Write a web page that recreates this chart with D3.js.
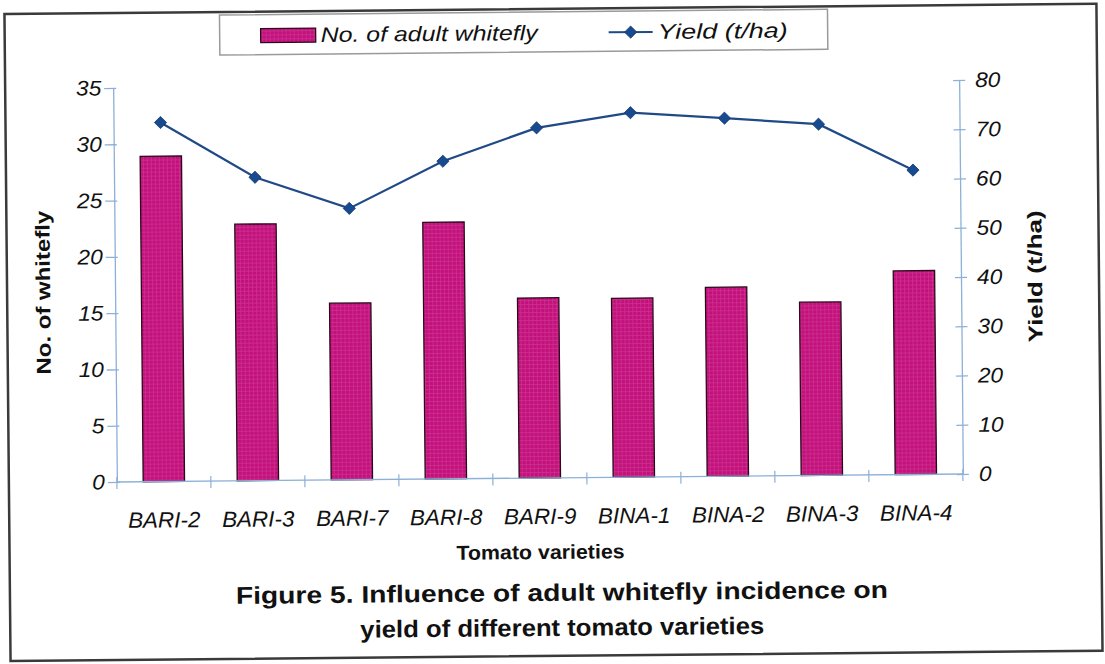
<!DOCTYPE html>
<html>
<head>
<meta charset="utf-8">
<script src="https://cdn.jsdelivr.net/npm/d3@7"></script>
<style>
  html, body { margin: 0; padding: 0; background: #fff; }
  svg { display: block; }
  text { font-family: "Liberation Sans", Arial, sans-serif; fill: #111; }
</style>
</head>
<body>
<svg id="chart" width="1105" height="664"></svg>
<script>
// Tomato varieties and their measurements
const varieties = ["BARI-2", "BARI-3", "BARI-7", "BARI-8", "BARI-9", "BINA-1", "BINA-2", "BINA-3", "BINA-4"];
const whiteflyCounts = [28.9, 22.8, 15.7, 22.8, 16.0, 15.9, 16.8, 15.4, 18.1];
const yieldValues = [72.9, 61.6, 55.1, 64.5, 71.1, 74.0, 72.7, 71.3, 61.8];

// Axis ticks
const whiteflyTicks = [0, 5, 10, 15, 20, 25, 30, 35];
const yieldTicks = [0, 10, 20, 30, 40, 50, 60, 70, 80];

// Labels
const legendLabels = ["No. of adult whitefly", "Yield (t/ha)"];
const xTitle = "Tomato varieties";
const leftTitle = "No. of whitefly";
const rightTitle = "Yield (t/ha)";
const figureCaption = ["Figure 5. Influence of adult whitefly incidence on", "yield of different tomato varieties"];

const svg = d3.select("#chart");
const defs = svg.append("defs");

// fine woven texture on the bars
const pat = defs.append("pattern")
  .attr("id", "barFill").attr("patternUnits", "userSpaceOnUse")
  .attr("width", 4).attr("height", 4);
pat.append("rect").attr("width", 4).attr("height", 4).attr("fill", "#c3107c");
pat.append("path").attr("d", "M0,0.5H4M0.5,0V4")
  .attr("stroke", "#d44c9c").attr("stroke-width", 0.8).attr("opacity", 0.55);

// the whole sheet is tilted a touch
const page = svg.append("g").attr("transform", "rotate(-0.54, 538, 281)");

// horizontal widening applied to text (by factor, or to a fixed width)
function widen(sel, k = 1.1) {
  sel.each(function () {
    const w = this.getComputedTextLength();
    d3.select(this).attr("textLength", w * k).attr("lengthAdjust", "spacingAndGlyphs");
  });
}
function fitWidth(sel, width) {
  sel.attr("textLength", width).attr("lengthAdjust", "spacingAndGlyphs");
}

// frame around the figure
page.append("rect")
  .attr("x", 7).attr("y", 9).attr("width", 1092).attr("height", 647)
  .attr("fill", "none").attr("stroke", "#3a3a3a").attr("stroke-width", 2.5);

const plot = { left: 115, right: 961, top: 84, bottom: 478 };

const x = d3.scaleBand().domain(varieties).range([plot.left, plot.right]).paddingInner(0.56).paddingOuter(0.28);
const xBand = d3.scaleBand().domain(varieties).range([plot.left, plot.right]);
const yLeft = d3.scaleLinear().domain([0, 35]).range([plot.bottom, plot.top]);
const yRight = d3.scaleLinear().domain([0, 80]).range([plot.bottom, plot.top]);

const axisColor = "#8db0d8";

// bars
page.append("g").selectAll("rect")
  .data(varieties)
  .join("rect")
  .attr("x", (d) => x(d))
  .attr("y", (d, i) => yLeft(whiteflyCounts[i]))
  .attr("width", x.bandwidth())
  .attr("height", (d, i) => yLeft(0) - yLeft(whiteflyCounts[i]))
  .attr("fill", "url(#barFill)")
  .attr("stroke", "#2b0a1e").attr("stroke-width", 1.3);

// left axis
const gLeft = page.append("g").attr("transform", `translate(${plot.left},0)`)
  .call(d3.axisLeft(yLeft).tickValues(whiteflyTicks).tickSizeInner(9).tickSizeOuter(0).tickPadding(8));
gLeft.select(".domain").attr("stroke", axisColor).attr("stroke-width", 1.3);
gLeft.selectAll(".tick line").attr("x1", 3).attr("stroke", axisColor).attr("stroke-width", 1.3);
gLeft.selectAll(".tick text")
  .attr("font-size", 21).attr("font-style", "italic").attr("fill", "#1a1a1a")
  .attr("font-family", "Liberation Sans, Arial, sans-serif").attr("x", -12)
  .call(widen, 1.08);

// right axis
const gRight = page.append("g").attr("transform", `translate(${plot.right},0)`)
  .call(d3.axisRight(yRight).tickValues(yieldTicks).tickSizeInner(6).tickSizeOuter(0).tickPadding(14));
gRight.select(".domain").attr("stroke", axisColor).attr("stroke-width", 1.3);
gRight.selectAll(".tick line").attr("x1", -6).attr("stroke", axisColor).attr("stroke-width", 1.3);
gRight.selectAll(".tick text")
  .attr("font-size", 21).attr("font-style", "italic").attr("fill", "#1a1a1a")
  .attr("font-family", "Liberation Sans, Arial, sans-serif").attr("x", 16)
  .call(widen, 1.08);

// category axis: ticks sit on the category boundaries
const gX = page.append("g").attr("transform", `translate(0,${plot.bottom})`);
gX.append("line").attr("x1", plot.left).attr("x2", plot.right)
  .attr("stroke", axisColor).attr("stroke-width", 1.3);
gX.selectAll("line.tick")
  .data(varieties.concat(["end"]))
  .join("line").attr("class", "tick")
  .attr("x1", (d, i) => i < varieties.length ? xBand(d) : plot.right)
  .attr("x2", (d, i) => i < varieties.length ? xBand(d) : plot.right)
  .attr("y1", -5).attr("y2", 7)
  .attr("stroke", axisColor).attr("stroke-width", 1.2);
gX.selectAll("text")
  .data(varieties)
  .join("text")
  .attr("x", (d) => xBand(d) + xBand.bandwidth() / 2)
  .attr("y", 46)
  .attr("text-anchor", "middle")
  .attr("font-size", 22).attr("font-style", "italic")
  .text((d) => d)
  .call(widen, 1.02);

// yield line with diamond markers
const cx = (d) => xBand(d) + xBand.bandwidth() / 2;
const line = d3.line().x((d, i) => cx(varieties[i])).y((d) => yRight(d));
page.append("path")
  .datum(yieldValues)
  .attr("d", line)
  .attr("fill", "none").attr("stroke", "#1f4a86").attr("stroke-width", 2.2);
const diamond = d3.symbol().type(d3.symbolDiamond2).size(95);
page.append("g").selectAll("path")
  .data(yieldValues)
  .join("path")
  .attr("transform", (d, i) => `translate(${cx(varieties[i])},${yRight(d)})`)
  .attr("d", diamond)
  .attr("fill", "#174a8f").attr("stroke", "#123a70").attr("stroke-width", 0.8);

// axis titles
page.append("text")
  .attr("transform", "translate(50,288) rotate(-90)")
  .attr("text-anchor", "middle")
  .attr("font-size", 20).attr("font-weight", "bold")
  .text(leftTitle).call(fitWidth, 164);
page.append("text")
  .attr("transform", "translate(1042,281) rotate(-90)")
  .attr("text-anchor", "middle")
  .attr("font-size", 20).attr("font-weight", "bold")
  .text(rightTitle).call(fitWidth, 132);
page.append("text")
  .attr("x", 538).attr("y", 559)
  .attr("text-anchor", "middle")
  .attr("font-size", 20).attr("font-weight", "bold")
  .text(xTitle).call(fitWidth, 168);

// caption
const captionWidths = [652, 404];
page.selectAll("text.caption")
  .data(figureCaption)
  .join("text").attr("class", "caption")
  .attr("x", 559).attr("y", (d, i) => 601 + i * 35)
  .attr("text-anchor", "middle")
  .attr("font-size", 24).attr("font-weight", "bold")
  .text((d) => d)
  .each(function (d, i) { d3.select(this).call(fitWidth, captionWidths[i]); });

// legend
const lg = page.append("g");
lg.append("rect").attr("x", 222).attr("y", 12).attr("width", 608).attr("height", 40)
  .attr("fill", "#fff").attr("stroke", "#9a9a9a").attr("stroke-width", 1.5);
lg.append("rect").attr("x", 263).attr("y", 26).attr("width", 55).attr("height", 14)
  .attr("fill", "url(#barFill)").attr("stroke", "#2b0a1e").attr("stroke-width", 1.3);
lg.append("text").attr("x", 323).attr("y", 40)
  .attr("font-size", 21).attr("font-style", "italic")
  .text(legendLabels[0]).call(fitWidth, 217);
lg.append("line").attr("x1", 611).attr("x2", 655).attr("y1", 33).attr("y2", 33)
  .attr("stroke", "#1f4a86").attr("stroke-width", 2);
lg.append("path").attr("transform", "translate(633,33)").attr("d", diamond)
  .attr("fill", "#174a8f").attr("stroke", "#123a70").attr("stroke-width", 0.8);
lg.append("text").attr("x", 660).attr("y", 40)
  .attr("font-size", 21).attr("font-style", "italic")
  .text(legendLabels[1]).call(fitWidth, 130);
</script>
</body>
</html>
